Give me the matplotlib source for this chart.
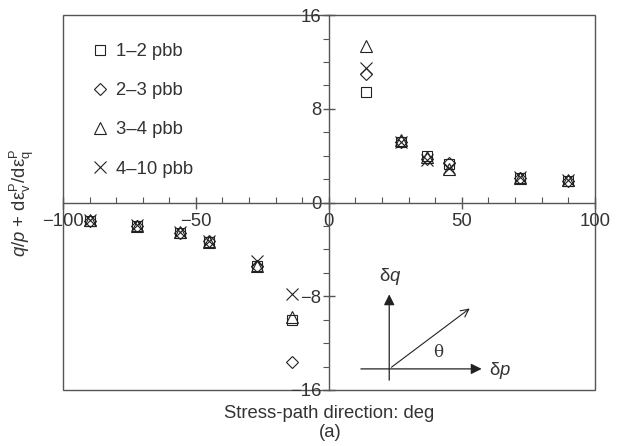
import matplotlib
matplotlib.use('Agg')
import matplotlib.pyplot as plt
from matplotlib.patches import Rectangle
from matplotlib.ticker import MultipleLocator

plt.rcParams['font.family'] = ['Liberation Sans', 'DejaVu Sans']
plt.rcParams['mathtext.fontset'] = 'custom'
plt.rcParams['mathtext.rm'] = 'Liberation Sans'
plt.rcParams['mathtext.it'] = 'Liberation Sans:italic'

# stress-path direction (deg)
angles = [-90, -72, -56, -45, -27, -14, 14, 27, 37, 45, 72, 90]

# q/p + dev/deq for each concentration band
s_1_2 = [-1.55, -2.0, -2.6, -3.35, -5.45, -10.0, 9.4, 5.2, 3.95, 3.3, 2.1, 1.85]
s_2_3 = [-1.55, -2.0, -2.6, -3.3, -5.4, -13.6, 11.0, 5.2, 3.7, 3.35, 2.1, 1.85]
s_3_4 = [-1.5, -2.0, -2.55, -3.4, -5.4, -9.8, 13.35, 5.3, 3.85, 2.9, 2.1, 1.9]
s_4_10 = [-1.5, -1.95, -2.55, -3.3, -5.0, -7.8, 11.45, 5.2, 3.6, 2.95, 2.15, 1.9]

labels = ['1–2 pbb', '2–3 pbb', '3–4 pbb', '4–10 pbb']
markers = ['s', 'D', '^', 'x']
sizes = [7.5, 6, 8, 8.5]

ink = '#333333'
fs = 13.3
fig = plt.figure(figsize=(6.17, 4.46), dpi=100)
ax = fig.add_axes([0.102, 0.1256, 0.862, 0.8404])

for vals, lab, m, ms in zip([s_1_2, s_2_3, s_3_4, s_4_10], labels, markers, sizes):
    ax.plot(angles, vals, linestyle='none', marker=m, markersize=ms,
            markerfacecolor='none', markeredgecolor='#222222',
            markeredgewidth=0.8, label=lab)

ax.set_xlim(-100, 100)
ax.set_ylim(-16, 16)

# axes through the origin, plus an outer frame
for side in ['top', 'right']:
    ax.spines[side].set_visible(False)
ax.spines['left'].set_position(('data', 0))
ax.spines['bottom'].set_position(('data', 0))
for side in ['left', 'bottom']:
    ax.spines[side].set_color('#555555')
    ax.spines[side].set_linewidth(1.0)
ax.add_patch(Rectangle((0, 0), 1, 1, transform=ax.transAxes, fill=False,
                       edgecolor='#555555', linewidth=1.0, clip_on=False))

ax.xaxis.set_major_locator(MultipleLocator(50))
ax.xaxis.set_minor_locator(MultipleLocator(10))
ax.yaxis.set_major_locator(MultipleLocator(8))
ax.yaxis.set_minor_locator(MultipleLocator(2))
ax.tick_params(axis='x', which='major', direction='inout', length=9,
               width=1, color='#555555', labelsize=fs, labelcolor=ink, pad=3)
ax.tick_params(axis='x', which='minor', direction='in', length=4.5,
               width=0.8, color='#555555')
ax.tick_params(axis='y', which='major', direction='inout', length=9,
               width=1, color='#555555', labelsize=fs, labelcolor=ink, pad=1)
ax.tick_params(axis='y', which='minor', direction='out', length=4,
               width=0.8, color='#555555')
ax.set_xticks([-100, -50, 0, 50, 100])
ax.set_xticklabels(['−100', '−50', '0', '50', '100'])
ax.set_yticks([-16, -8, 0, 8, 16])
ax.set_yticklabels(['−16', '−8', '0', '8', '16'])

ax.set_xlabel('Stress-path direction: deg', fontsize=fs, color=ink)
ax.xaxis.set_label_coords(0.5, -0.04)
ax.set_ylabel(r'$q/p$ + d$\mathrm{\varepsilon}_\mathrm{v}^\mathrm{P}$/d$\mathrm{\varepsilon}_\mathrm{q}^\mathrm{P}$',
              fontsize=fs, color=ink)
ax.yaxis.set_label_coords(-0.05, 0.5)
fig.text(0.535, 0.03, '(a)', fontsize=fs, color=ink, ha='center', va='center')

leg = ax.legend(loc='upper left', bbox_to_anchor=(0.041, 0.95), frameon=False,
                fontsize=fs, labelspacing=1.2, handlelength=0.7,
                handletextpad=0.5, borderpad=0)
for t in leg.get_texts():
    t.set_color(ink)

# stress-path inset sketch
arrow_kw = dict(color='#222222', lw=0.9)
ax.annotate('', xy=(22.7, -7.6), xytext=(22.7, -15.4),
            arrowprops=dict(arrowstyle='-|>', mutation_scale=16, **arrow_kw))
ax.annotate('', xy=(58.5, -14.2), xytext=(11, -14.2),
            arrowprops=dict(arrowstyle='-|>', mutation_scale=16, **arrow_kw))
ax.annotate('', xy=(53.8, -8.9), xytext=(22.7, -14.2),
            arrowprops=dict(arrowstyle='->', mutation_scale=14, color='#222222', lw=0.8))
ax.text(23, -6.3, r'$\mathrm{\delta}q$', fontsize=fs, color=ink, ha='center', va='center')
ax.text(64.5, -14.3, r'$\mathrm{\delta}p$', fontsize=fs, color=ink, ha='center', va='center')
ax.text(41, -12.8, 'θ', fontsize=12, color=ink, ha='center', va='center',
        family='DejaVu Serif')

fig.savefig('out.png', dpi=100)
